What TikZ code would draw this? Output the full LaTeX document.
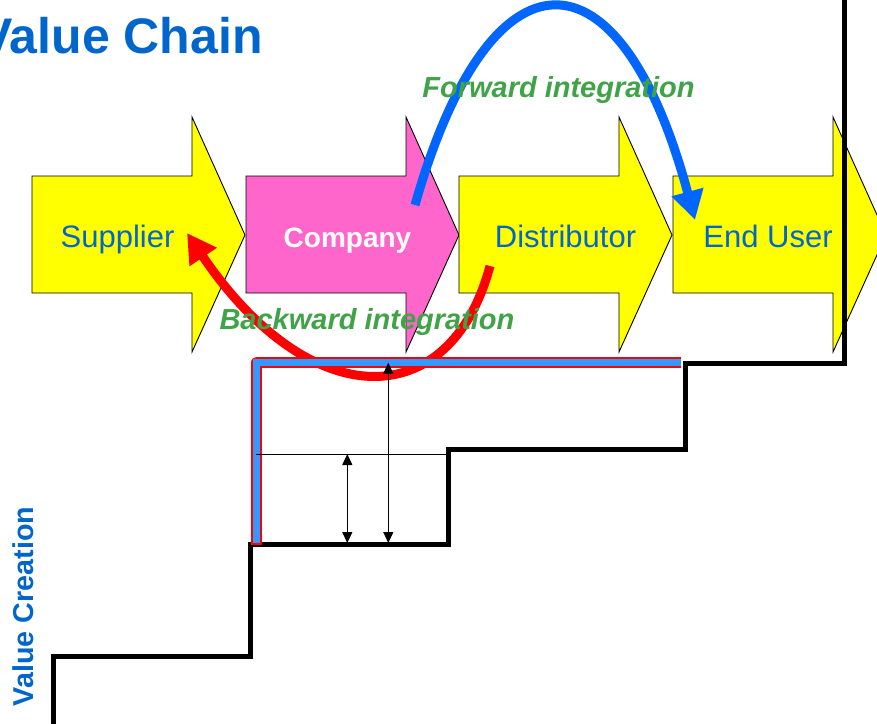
\documentclass[tikz,border=0pt]{standalone}
\usepackage{fontspec}
\setmainfont{Liberation Sans}
\usetikzlibrary{arrows.meta}
\definecolor{chainyellow}{HTML}{FFFF00}
\definecolor{chainpink}{HTML}{FF66CC}
\definecolor{txtblue}{HTML}{0066CC}
\definecolor{arcblue}{HTML}{0066FF}
\definecolor{bandblue}{HTML}{3399FF}
\definecolor{intgreen}{HTML}{40A347}
\tikzset{
  blockarrow/.style={draw=black, line width=0.9pt, line join=miter},
  chaintext/.style={inner sep=0pt, anchor=base, text=txtblue, font=\fontsize{31}{33}\selectfont},
  inttext/.style={inner sep=0pt, anchor=base, text=intgreen, font=\fontsize{29}{31}\selectfont\bfseries\itshape},
  stair/.style={line width=5pt, line join=miter, line cap=butt},
  thinline/.style={line width=1pt},
  dimarrow/.style={line width=1.2pt, {Triangle[length=11pt,width=10pt]}-{Triangle[length=11pt,width=10pt]}},
  bigtip/.style={-{Triangle[length=29pt,width=31pt]}, line width=9pt}
}
\newcommand\chainarrow[4]{%
  \path[blockarrow, fill=#4] (#1,176) -- (#2,176) -- (#2,117) -- (#3,235) -- (#2,352) -- (#2,293) -- (#1,293) -- cycle;}
\begin{document}
\begin{tikzpicture}[x=1pt,y=-1pt]
\useasboundingbox (0,0) rectangle (877,723);
\clip (0,0) rectangle (877,723);
\fill[white] (0,0) rectangle (877,723);

% title
\node[inner sep=0pt, anchor=base east, text=txtblue, font=\fontsize{50}{52}\selectfont\bfseries] (title) at (263,53) {Value Chain};

% value chain arrows
\chainarrow{32}{192}{245}{chainyellow}
\chainarrow{246}{406}{459}{chainpink}
\chainarrow{459}{619}{672}{chainyellow}
\chainarrow{673}{833}{886}{chainyellow}

\node[chaintext] (supplier) at (117.5,247) {Supplier};
\node[chaintext, text=white, font=\fontsize{28}{30}\selectfont\bfseries] (company) at (347.5,247) {Company};
\node[chaintext] (distributor) at (565.5,247) {Distributor};
\node[chaintext] (enduser) at (768,247) {End User};

% staircase
\draw[stair] (53,730) -- (53,656.5) -- (250.5,656.5) -- (250.5,544) -- (448.5,544) -- (448.5,449) -- (685,449) -- (685,363.5) -- (844,363.5) -- (844,-10);

% backward integration arc
\coordinate (bstart) at (490,266);
\coordinate (bend) at (187,233);
\draw[bigtip, red] (bstart) .. controls (450,415) and (310,415) .. (bend);

% red/blue band
\draw[red, line width=11.5pt, line join=round] (256.7,545) -- (256.7,362.5) -- (681,362.5);
\draw[bandblue, line width=7.5pt, line join=miter] (256.7,543) -- (256.7,362.5) -- (681,362.5);

% dimension lines
\coordinate (hl) at (256,454);
\coordinate (hr) at (448,454);
\draw[thinline] (hl) -- (hr);
\coordinate (a1t) at (347.3,454);
\coordinate (a1b) at (347.3,543);
\coordinate (a2t) at (388.3,362.7);
\coordinate (a2b) at (388.3,543);
\draw[dimarrow] (a1t) -- (a1b);
\draw[dimarrow] (a2t) -- (a2b);

% forward integration arc
\coordinate (fstart) at (415,205);
\coordinate (fend) at (695,220);
\draw[bigtip, arcblue] (fstart) .. controls (490,-60) and (620,-60) .. (fend);

% labels
\node[inttext] (fwd) at (558.5,97) {Forward integration};
\node[inttext] (bwd) at (367,329) {Backward integration};

\node[inner sep=0pt, anchor=base, rotate=90, text=txtblue, font=\fontsize{28.7}{30}\selectfont\bfseries] (vc) at (33,606.5) {Value Creation};
\end{tikzpicture}
\end{document}
